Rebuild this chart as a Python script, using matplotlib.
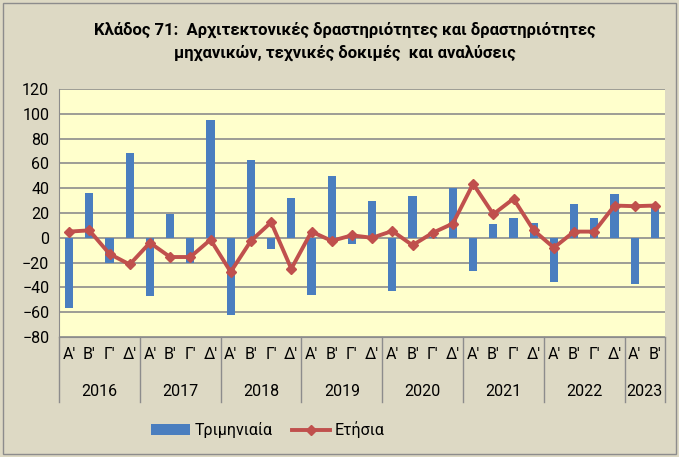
import numpy as np
import matplotlib
matplotlib.use("Agg")
import matplotlib.pyplot as plt
import matplotlib.transforms as mtransforms
from matplotlib.patches import Rectangle

plt.rcParams['font.family'] = ['Roboto', 'DejaVu Sans']

# Datos
years = ['2016', '2017', '2018', '2019', '2020', '2021', '2022', '2023']
quarters_per_year = [4, 4, 4, 4, 4, 4, 4, 2]
quarter_names = ["Α'", "Β'", "Γ'", "Δ'"]

triminiaia = [-57, 36, -20, 68,
              -47, 19, -20, 95,
              -62, 63, -9, 32,
              -46, 50, -5, 30,
              -43, 34, 1, 40,
              -27, 11, 16, 12,
              -36, 27, 16, 35,
              -37, 26]
etisia = [5, 6, -13, -21.5,
          -4, -15.5, -15.5, -1.5,
          -27.5, -2.5, 12.5, -25,
          5, -2.5, 2, 0,
          5.5, -6, 4, 11.5,
          43.5, 19, 31.5, 6,
          -8, 5, 5, 26,
          25.5, 26]

W, H = 679, 457
fig = plt.figure(figsize=(W / 100, H / 100), dpi=100)
fig.patch.set_facecolor('#DDD9C4')
fig.patches.append(Rectangle((3 / W, 3 / H), 673 / W, 451 / H, transform=fig.transFigure,
                             fill=False, edgecolor='#8C8C8C', linewidth=1))

ax = fig.add_axes([59 / W, (H - 337) / H, 606 / W, 248 / H])
ax.set_facecolor('#FFFFCC')

x = np.arange(len(triminiaia))
bars = ax.bar(x, triminiaia, width=0.4, color='#4A7EBF', zorder=2, label='Τριμηνιαία')
line, = ax.plot(x, etisia, color='#C0504D', linewidth=2.8, marker='D', markersize=5,
                zorder=3, label='Ετήσια')

ax.set_xlim(-0.5, len(x) - 0.5)
ax.set_ylim(-80, 120)
ax.set_yticks(range(-80, 121, 20))
ax.yaxis.grid(True, color='#8C8C8C', linewidth=1.2, zorder=1)
ax.tick_params(axis='y', length=0, labelsize=11.5, pad=7)
for s in ['top', 'right']:
    ax.spines[s].set_visible(False)
for s in ['left', 'bottom']:
    ax.spines[s].set_color('#8C8C8C')

# Etiquetas de trimestres y años
labels = []
for n in quarters_per_year:
    labels += quarter_names[:n]
ax.set_xticks(x)
ax.set_xticklabels(labels, fontsize=11.5)
ax.tick_params(axis='x', length=0, pad=7)

trans = mtransforms.blended_transform_factory(ax.transData, ax.transAxes)
depth = 65 / 248
start = 0
bounds = [-0.5]
for yr, n in zip(years, quarters_per_year):
    ax.text(start + (n - 1) / 2, -55 / 248, yr, transform=trans, ha='center',
            va='center', fontsize=11.5)
    start += n
    bounds.append(start - 0.5)
for b in bounds:
    ax.plot([b, b], [0, -depth], transform=trans, color='#8C8C8C',
            linewidth=1, clip_on=False)

fig.text(345 / W, 1 - 30 / H, 'Κλάδος 71:  Αρχιτεκτονικές δραστηριότητες και δραστηριότητες',
         ha='center', va='center', fontsize=12, fontweight='bold')
fig.text(345 / W, 1 - 53 / H, 'μηχανικών, τεχνικές δοκιμές  και αναλύσεις',
         ha='center', va='center', fontsize=12, fontweight='bold')

fig.legend([bars, line], ['Τριμηνιαία', 'Ετήσια'], loc='center',
           bbox_to_anchor=(268 / W, 1 - 430 / H), ncol=2,
           frameon=False, fontsize=11.5, handlelength=2.4, columnspacing=1.2,
           handletextpad=0.3)

plt.savefig('out.png', dpi=100, facecolor=fig.get_facecolor())
